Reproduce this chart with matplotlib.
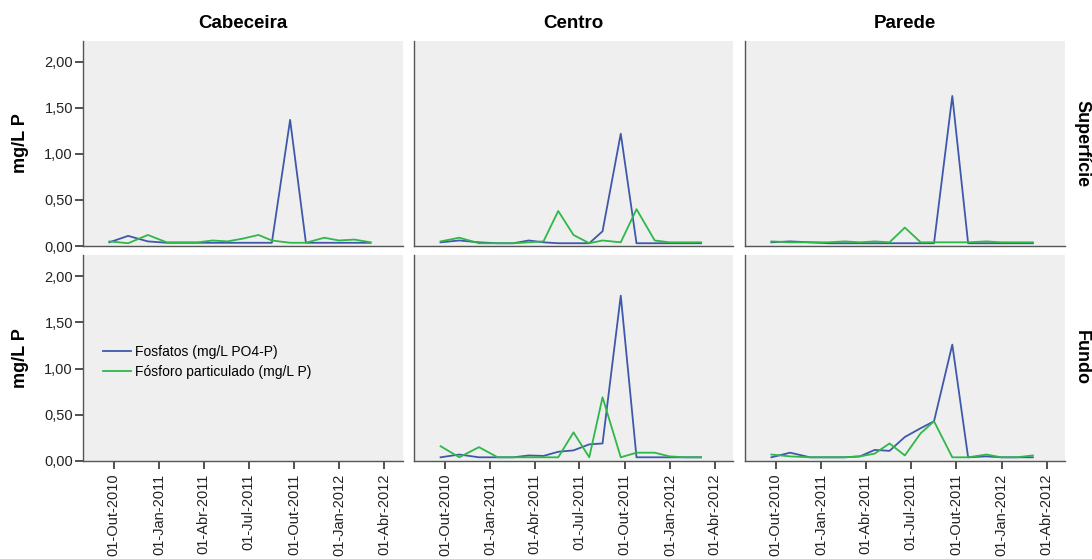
import matplotlib
matplotlib.use("Agg")
import matplotlib.pyplot as plt
import pandas as pd

plt.rcParams["font.family"] = ["Liberation Sans", "DejaVu Sans"]

# sampling dates (same for every panel)
dates = pd.to_datetime([
    "2010-09-22", "2010-10-30", "2010-12-09", "2011-01-16", "2011-02-17",
    "2011-03-20", "2011-04-19", "2011-05-19", "2011-06-19", "2011-07-21",
    "2011-08-17", "2011-09-23", "2011-10-25", "2011-12-01", "2011-12-31",
    "2012-01-31", "2012-03-04",
])

sites = ["Cabeceira", "Centro", "Parede"]
depths = ["Superfície", "Fundo"]

# Fosfatos (mg/L PO4-P)
fosf_cab_sup = [0.04, 0.11, 0.05, 0.035, 0.035, 0.035, 0.035, 0.035, 0.035, 0.035, 0.035, 1.37, 0.035, 0.035, 0.035, 0.035, 0.035]
fosf_cen_sup = [0.04, 0.06, 0.04, 0.03, 0.03, 0.06, 0.04, 0.03, 0.03, 0.03, 0.16, 1.22, 0.03, 0.03, 0.03, 0.03, 0.03]
fosf_par_sup = [0.04, 0.05, 0.04, 0.03, 0.03, 0.03, 0.03, 0.03, 0.03, 0.03, 0.03, 1.63, 0.03, 0.03, 0.03, 0.03, 0.03]
fosf_cen_fun = [0.04, 0.07, 0.04, 0.04, 0.04, 0.06, 0.055, 0.10, 0.115, 0.18, 0.19, 1.79, 0.04, 0.04, 0.04, 0.04, 0.04]
fosf_par_fun = [0.04, 0.09, 0.04, 0.04, 0.04, 0.05, 0.12, 0.11, 0.26, 0.355, 0.43, 1.26, 0.04, 0.05, 0.04, 0.04, 0.04]

# Fósforo particulado (mg/L P)
part_cab_sup = [0.05, 0.03, 0.12, 0.04, 0.04, 0.04, 0.06, 0.05, 0.08, 0.12, 0.06, 0.035, 0.035, 0.09, 0.06, 0.07, 0.04]
part_cen_sup = [0.05, 0.09, 0.03, 0.03, 0.03, 0.04, 0.05, 0.38, 0.12, 0.03, 0.06, 0.04, 0.40, 0.06, 0.04, 0.04, 0.04]
part_par_sup = [0.05, 0.04, 0.04, 0.04, 0.05, 0.04, 0.05, 0.04, 0.20, 0.04, 0.04, 0.04, 0.04, 0.05, 0.04, 0.04, 0.04]
part_cen_fun = [0.16, 0.04, 0.15, 0.04, 0.04, 0.04, 0.04, 0.04, 0.31, 0.04, 0.69, 0.04, 0.09, 0.09, 0.05, 0.04, 0.04]
part_par_fun = [0.07, 0.05, 0.04, 0.04, 0.04, 0.05, 0.08, 0.19, 0.06, 0.30, 0.43, 0.04, 0.04, 0.07, 0.04, 0.04, 0.06]

data = {
    (0, 0): (fosf_cab_sup, part_cab_sup),
    (0, 1): (fosf_cen_sup, part_cen_sup),
    (0, 2): (fosf_par_sup, part_par_sup),
    (1, 1): (fosf_cen_fun, part_cen_fun),
    (1, 2): (fosf_par_fun, part_par_fun),
}

xtick_dates = pd.to_datetime(["2010-10-01", "2011-01-01", "2011-04-01", "2011-07-01",
                              "2011-10-01", "2012-01-01", "2012-04-01"])
xtick_labels = ["01-Out-2010", "01-Jan-2011", "01-Abr-2011", "01-Jul-2011",
                "01-Out-2011", "01-Jan-2012", "01-Abr-2012"]
yticks = [0, 0.5, 1.0, 1.5, 2.0]
ytick_labels = ["0,00", "0,50", "1,00", "1,50", "2,00"]

blue = "#3e58ac"
green = "#2eb848"
W, H = 1092, 559

fig = plt.figure(figsize=(W / 100, H / 100), dpi=100)

col_px = [(82.7, 402.7), (414, 733), (744.7, 1065)]
row_px = [(40.7, 246), (255, 461)]

axes = {}
for r, (top, bot) in enumerate(row_px):
    for c, (left, right) in enumerate(col_px):
        ax = fig.add_axes([left / W, 1 - bot / H, (right - left) / W, (bot - top) / H])
        ax.set_facecolor("#efefef")
        for s in ["top", "right"]:
            ax.spines[s].set_visible(False)
        for s in ["left", "bottom"]:
            ax.spines[s].set_color("#555555")
            ax.spines[s].set_linewidth(1.0)
        ax.set_ylim(0, 2.23)
        ax.set_xlim(pd.Timestamp("2010-07-30"), pd.Timestamp("2012-05-08"))
        if (r, c) in data:
            f, p = data[(r, c)]
            ax.plot(dates, f, color=blue, lw=1.3, label="Fosfatos (mg/L PO4-P)")
            ax.plot(dates, p, color=green, lw=1.3, label="Fósforo particulado (mg/L P)")
        if c == 0:
            ax.set_yticks(yticks)
            ax.set_yticklabels(ytick_labels, fontsize=10.5, color="#222222")
            ax.tick_params(axis="y", length=6, width=1.2, color="#333333", pad=1)
        else:
            ax.set_yticks([])
        if r == 1:
            ax.set_xticks(xtick_dates)
            ax.set_xticklabels(xtick_labels, rotation=90, fontsize=10.5, color="#222222")
            ax.tick_params(axis="x", length=6, width=1.2, color="#333333", pad=3)
        else:
            ax.set_xticks([])
        axes[(r, c)] = ax

# legend in the empty panel
ax = axes[(1, 0)]
ax.plot([], [], color=blue, lw=1.3, label="Fosfatos (mg/L PO4-P)")
ax.plot([], [], color=green, lw=1.3, label="Fósforo particulado (mg/L P)")
ax.legend(loc="center left", bbox_to_anchor=(0.064, 0.48), frameon=False,
          fontsize=10, handlelength=2.0, handletextpad=0.3, labelspacing=0.45,
          borderpad=0, borderaxespad=0)

for c, (left, right) in enumerate(col_px):
    fig.text((left + right) / 2 / W, 1 - 24 / H, sites[c], ha="center", va="center",
             fontsize=13.5, fontweight="bold")

for r, (top, bot) in enumerate(row_px):
    fig.text(20.7 / W, 1 - (top + bot) / 2 / H, "mg/L P", rotation=90, ha="center",
             va="center", fontsize=13, fontweight="bold")
    fig.text(1081.7 / W, 1 - (top + bot) / 2 / H, depths[r], rotation=-90, ha="center",
             va="center", fontsize=13, fontweight="bold")

fig.savefig("out.png", dpi=100)
